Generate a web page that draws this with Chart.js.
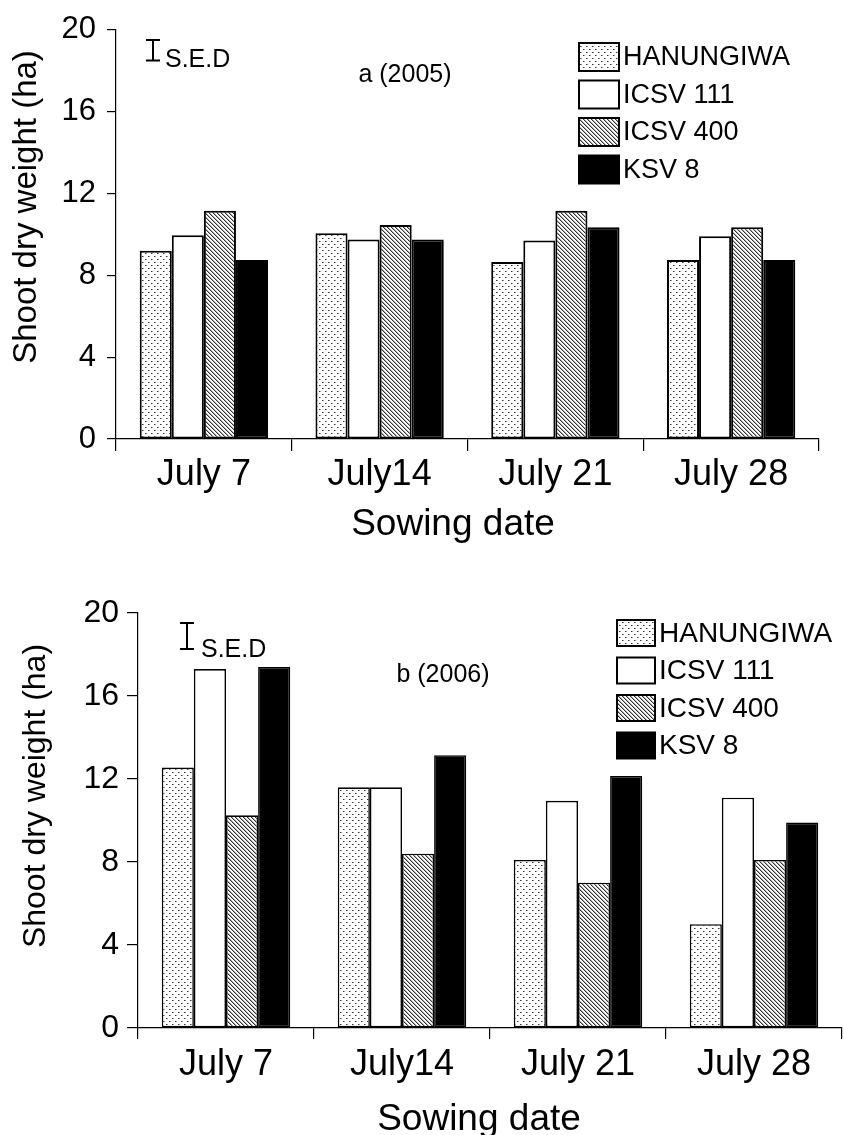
<!DOCTYPE html>
<html>
<head>
<meta charset="utf-8">
<script src="https://cdn.jsdelivr.net/npm/chart.js@4.4.1/dist/chart.umd.min.js"></script>
<style>
html, body { margin: 0; padding: 0; background: #fff; }
#wrapA { position: absolute; left: 0; top: 0; width: 844px; height: 570px; }
#wrapB { position: absolute; left: 0; top: 570px; width: 844px; height: 565px; }
</style>
</head>
<body>
<div id="wrapA"><canvas id="chartA"></canvas></div>
<div id="wrapB"><canvas id="chartB"></canvas></div>
<script>
// sowing dates and varieties
const dates = ['July 7', 'July14', 'July 21', 'July 28'];
const varieties = ['HANUNGIWA', 'ICSV 111', 'ICSV 400', 'KSV 8'];
const yTicks = [0, 4, 8, 12, 16, 20];

// a (2005)
const hanungiwa2005 = [9.2, 10.05, 8.65, 8.75];
const icsv111_2005 = [9.95, 9.75, 9.7, 9.9];
const icsv400_2005 = [11.15, 10.45, 11.15, 10.35];
const ksv8_2005 = [8.75, 9.75, 10.35, 8.75];

// b (2006)
const hanungiwa2006 = [12.55, 11.6, 8.1, 5.0];
const icsv111_2006 = [17.3, 11.6, 10.95, 11.1];
const icsv400_2006 = [10.25, 8.4, 7.0, 8.1];
const ksv8_2006 = [17.4, 13.15, 12.15, 9.9];

// standard error of difference bars
const sed2005 = 1.0;
const sed2006 = 1.25;

const FONT = 'Liberation Sans, Arial, sans-serif';

function dotPattern() {
    const c = document.createElement('canvas');
    c.width = 6; c.height = 6;
    const g = c.getContext('2d');
    g.fillStyle = '#fff';
    g.fillRect(0, 0, 6, 6);
    g.fillStyle = '#999';
    g.fillRect(1, 1, 2, 1);
    g.fillRect(4, 4, 2, 1);
    g.fillStyle = '#333';
    g.fillRect(1, 1, 1, 1);
    g.fillRect(4, 4, 1, 1);
    return g.createPattern(c, 'repeat');
}

function hatchPattern() {
    const c = document.createElement('canvas');
    c.width = 4; c.height = 4;
    const g = c.getContext('2d');
    g.fillStyle = '#fff';
    g.fillRect(0, 0, 4, 4);
    for (let i = 0; i < 4; i++) {
        g.fillStyle = '#aaa';
        g.fillRect((i + 1) % 4, i, 1, 1);
        g.fillStyle = '#333';
        g.fillRect(i, i, 1, 1);
    }
    return g.createPattern(c, 'repeat');
}

const fills = [dotPattern(), '#ffffff', hatchPattern(), '#000000'];

function makeDatasets(series, bw) {
    return series.map((d, n) => ({
        label: varieties[n],
        data: d,
        backgroundColor: fills[n],
        borderColor: '#000',
        borderWidth: bw,
        borderSkipped: false,
        categoryPercentage: 0.73,
        barPercentage: 1.0
    }));
}

// draws titles, legend, panel label and S.E.D marker
const decor = {
    id: 'decor',
    afterDraw(chart, args, o) {
        const ctx = chart.ctx;
        const y = chart.scales.y;
        ctx.save();
        ctx.fillStyle = '#000';
        ctx.strokeStyle = '#000';

        // y title
        ctx.save();
        ctx.translate(o.yTitle[0], o.yTitle[1]);
        ctx.rotate(-Math.PI / 2);
        ctx.font = o.yTitle[2] + 'px ' + FONT;
        ctx.textAlign = 'center';
        ctx.textBaseline = 'middle';
        ctx.fillText('Shoot dry weight (ha)', 0, 0);
        ctx.restore();

        // x title
        ctx.font = o.xTitle[2] + 'px ' + FONT;
        ctx.textAlign = 'center';
        ctx.textBaseline = 'middle';
        ctx.fillText('Sowing date', o.xTitle[0], o.xTitle[1]);

        // panel label
        ctx.font = o.panel[2] + 'px ' + FONT;
        ctx.fillText(o.panelText, o.panel[0], o.panel[1]);

        // S.E.D bar
        const len = y.getPixelForValue(0) - y.getPixelForValue(o.sed);
        const sx = o.sedPos[0], sy = o.sedPos[1];
        ctx.lineWidth = 2;
        ctx.beginPath();
        ctx.moveTo(sx, sy); ctx.lineTo(sx, sy + len);
        ctx.moveTo(sx - 7, sy); ctx.lineTo(sx + 7, sy);
        ctx.moveTo(sx - 7, sy + len); ctx.lineTo(sx + 7, sy + len);
        ctx.stroke();
        ctx.font = o.sedPos[4] + 'px ' + FONT;
        ctx.textAlign = 'left';
        ctx.fillText('S.E.D', o.sedPos[2], o.sedPos[3]);

        // legend
        const L = o.legend;
        chart.data.datasets.forEach((ds, i) => {
            const by = L.y + i * L.step;
            ctx.fillStyle = ds.backgroundColor;
            ctx.fillRect(L.x, by, L.w, L.h);
            ctx.lineWidth = 2;
            ctx.strokeStyle = '#000';
            ctx.strokeRect(L.x, by, L.w, L.h);
            ctx.fillStyle = '#000';
            ctx.font = L.font + 'px ' + FONT;
            ctx.textAlign = 'left';
            ctx.textBaseline = 'middle';
            ctx.fillText(ds.label, L.x + L.w + 4, by + L.h / 2 + 1);
        });
        ctx.restore();
    }
};

function makeChart(id, series, p) {
    return new Chart(document.getElementById(id), {
        type: 'bar',
        data: { labels: dates, datasets: makeDatasets(series, p.bw) },
        plugins: [decor],
        options: {
            responsive: true,
            maintainAspectRatio: false,
            animation: false,
            layout: { padding: { left: 0, top: p.top, right: 844 - p.right, bottom: 0 } },
            plugins: {
                legend: { display: false },
                tooltip: { enabled: false },
                decor: p.decor
            },
            scales: {
                x: {
                    afterFit: s => { s.height = p.h - p.bottom; },
                    grid: { offset: true, drawOnChartArea: false, color: '#000', tickLength: p.xTick, lineWidth: 1.2 },
                    border: { color: '#000', width: 1.2 },
                    ticks: { color: '#000', padding: p.xPad, maxRotation: 0, font: { family: FONT, size: 36 } }
                },
                y: {
                    min: 0,
                    max: 20,
                    afterFit: s => { s.width = p.left; },
                    afterBuildTicks: s => { s.ticks = yTicks.map(v => ({ value: v })); },
                    grid: { drawOnChartArea: false, color: '#000', tickLength: p.yTick, lineWidth: 1.2 },
                    border: { color: '#000', width: 1.2 },
                    ticks: { color: '#000', padding: p.yPad, font: { family: FONT, size: p.yFont } }
                }
            }
        }
    });
}

makeChart('chartA', [hanungiwa2005, icsv111_2005, icsv400_2005, ksv8_2005], {
    h: 570, left: 116, right: 819, top: 29, bottom: 439,
    bw: 2, xTick: 12, xPad: 2, yTick: 9, yPad: 11, yFont: 31,
    decor: {
        yTitle: [27, 207, 33],
        xTitle: [453, 525, 37],
        panel: [405, 75, 25],
        panelText: 'a (2005)',
        sed: sed2005,
        sedPos: [153, 40, 165, 60, 25],
        legend: { x: 579, y: 43, w: 40, h: 28, step: 37.5, font: 27 }
    }
});

makeChart('chartB', [hanungiwa2006, icsv111_2006, icsv400_2006, ksv8_2006], {
    h: 565, left: 138, right: 842, top: 43, bottom: 458,
    bw: 1.6, xTick: 11, xPad: 4, yTick: 11, yPad: 8, yFont: 32,
    decor: {
        yTitle: [36, 226, 32],
        xTitle: [479, 550, 37],
        panel: [443, 105, 25],
        panelText: 'b (2006)',
        sed: sed2006,
        sedPos: [187, 53, 201, 80, 25],
        legend: { x: 617, y: 50, w: 38, h: 26, step: 37.5, font: 28 }
    }
});
</script>
</body>
</html>
